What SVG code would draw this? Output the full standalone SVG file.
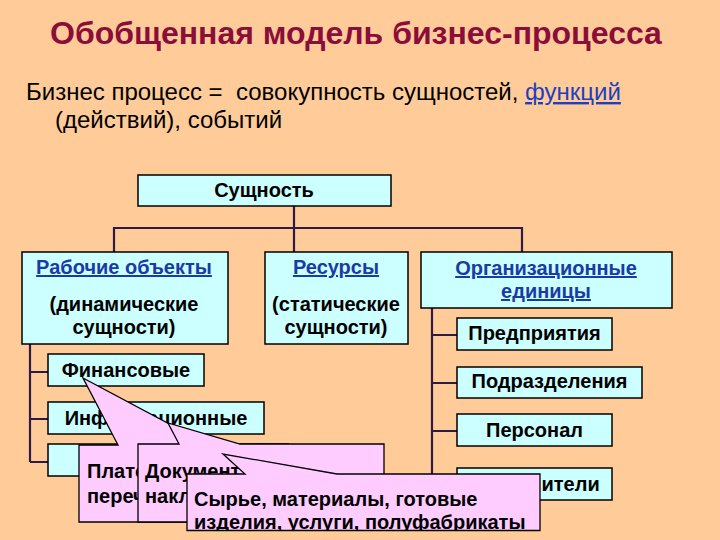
<svg xmlns="http://www.w3.org/2000/svg" width="720" height="540" viewBox="0 0 720 540">
<defs>
<style>
.box{fill:#CCFFFF;stroke:#000;stroke-width:1.5}
.call{fill:#FFCCFF;stroke:#000;stroke-width:1.3;stroke-linejoin:miter}
.conn{stroke:#2E1A47;stroke-width:2.2;fill:none}
.t{font-family:"Liberation Sans",Arial,sans-serif;font-weight:bold;font-size:20px;fill:#000}
.c{text-anchor:middle}
.lnk{fill:#1A3BA6;text-decoration:underline}
.sub{font-family:"Liberation Sans",Arial,sans-serif;font-size:24px;fill:#000}
</style>
<clipPath id="clip3"><rect x="187" y="474" width="353" height="56.5"/></clipPath>
</defs>
<rect x="0" y="0" width="720" height="540" fill="#FFCC99"/>
<g id="title">
<text x="50" y="44" style="font-family:'Liberation Sans',Arial,sans-serif;font-weight:bold;font-size:32px;fill:#8B0D3A">Обобщенная модель бизнес-процесса</text>
</g>
<g id="subtitle">
<text class="sub" x="26" y="100" xml:space="preserve">Бизнес процесс =  совокупность сущностей, <tspan fill="#1F3FBF" text-decoration="underline">функций</tspan></text>
<text class="sub" x="55" y="128">(действий), событий</text>
</g>
<g id="connectors">
<path class="conn" d="M294 206V252M114 252V228H522V252"/>
<path class="conn" d="M30 344V462M30 372H48M30 419H48M30 462H48"/>
<path class="conn" d="M432 308V484M432 335H457M432 383H457M432 431H457M432 484H457"/>
</g>
<g id="sushnost">
<rect class="box" x="138" y="175" width="253" height="31"/>
<text class="t c" x="264" y="197">Сущность</text>
</g>
<g id="rabochie">
<rect class="box" x="22" y="252" width="206" height="92"/>
<text class="t c lnk" x="124" y="274">Рабочие объекты</text>
<text class="t c" x="124" y="311">(динамические</text>
<text class="t c" x="124" y="334">сущности)</text>
</g>
<g id="resursy">
<rect class="box" x="265" y="252" width="143" height="92"/>
<text class="t c lnk" x="336" y="274">Ресурсы</text>
<text class="t c" x="336" y="311">(статические</text>
<text class="t c" x="336" y="334">сущности)</text>
</g>
<g id="org">
<rect class="box" x="421" y="252" width="251" height="56"/>
<text class="t c lnk" x="546" y="275">Организационные</text>
<text class="t c lnk" x="546" y="298">единицы</text>
</g>
<g id="finansovye">
<rect class="box" x="48" y="354" width="156" height="32"/>
<text class="t c" x="126" y="377">Финансовые</text>
</g>
<g id="informacionnye">
<rect class="box" x="48" y="402" width="216" height="32"/>
<text class="t c" x="156" y="425">Информационные</text>
</g>
<g id="materialnye">
<rect class="box" x="48" y="444" width="240" height="32"/>
</g>
<g id="predpriyatiya">
<rect class="box" x="457" y="318" width="155" height="32"/>
<text class="t c" x="534.5" y="340">Предприятия</text>
</g>
<g id="podrazdeleniya">
<rect class="box" x="457" y="367" width="185" height="31"/>
<text class="t c" x="549.5" y="388">Подразделения</text>
</g>
<g id="personal">
<rect class="box" x="457" y="414" width="155" height="32"/>
<text class="t c" x="534.5" y="437">Персонал</text>
</g>
<g id="ispolniteli">
<rect class="box" x="457" y="468" width="155" height="32"/>
<text class="t" x="541.5" y="491">ители</text>
</g>
<g id="callout1">
<path class="call" d="M79 445H118L83 378L209 445H300V522H79Z"/>
<text class="t" x="87" y="478">Плате</text>
<text class="t" x="87" y="503">переч</text>
</g>
<g id="callout2">
<path class="call" d="M138 444H179L168 423L240 444H384V522H138Z"/>
<text class="t" x="145" y="478">Документ</text>
<text class="t" x="145" y="503">накл</text>
</g>
<g id="callout3">
<path class="call" d="M187 474H245L223 454L337 474H540V530.5H187Z"/>
<g clip-path="url(#clip3)">
<text class="t" x="194" y="506">Сырье, материалы, готовые</text>
<text class="t" x="194" y="529">изделия, услуги, полуфабрикаты</text>
</g>
</g>
</svg>
